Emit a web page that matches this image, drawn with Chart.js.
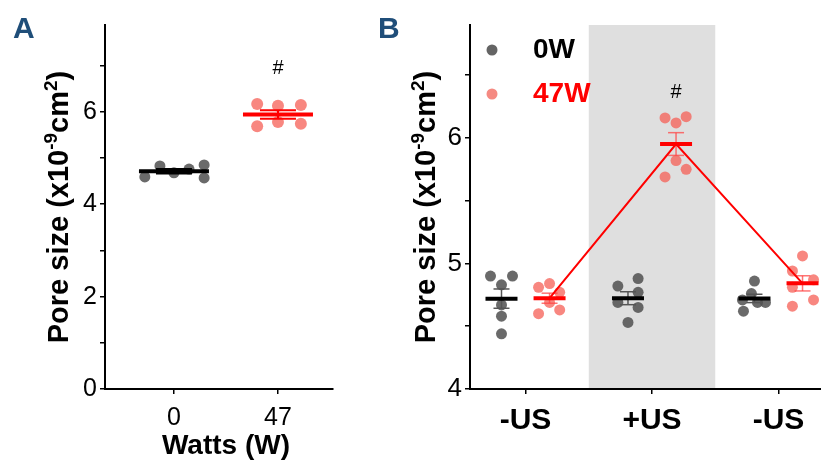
<!DOCTYPE html>
<html>
<head>
<meta charset="utf-8">
<script src="https://cdn.jsdelivr.net/npm/chart.js@4.4.0/dist/chart.umd.min.js"></script>
<style>
  html, body { margin: 0; padding: 0; background: #fff; }
  #wrap { position: relative; width: 821px; height: 460px; overflow: hidden; }
  #boxA { position: absolute; left: 0; top: 0; }
  #boxB { position: absolute; left: 335px; top: 0; }
</style>
</head>
<body>
<div id="wrap">
  <div id="boxA"><canvas id="chartA" width="335" height="460"></canvas></div>
  <div id="boxB"><canvas id="chartB" width="486" height="460"></canvas></div>
</div>
<script>
// ---- data: panel A (pore size by power) ----
const wattsLabels = ['0', '47'];
const wattsX = [0, 1];
const poreA_0W  = [4.59, 4.83, 4.68, 4.76, 4.85, 4.57];
const poreA_47W = [6.17, 6.13, 6.15, 5.69, 5.78, 5.74];
const jitterA_0W  = [-0.28, -0.135, 0, 0.145, 0.29, 0.29];
const jitterA_47W = [-0.2, 0, 0.22, -0.2, 0, 0.22];

// ---- data: panel B (pore size by ultrasound phase) ----
const usLabels = ['-US', '+US', '-US'];
const usX = [0, 1, 2];
const poreB_0W = [
  [4.90, 4.90, 4.83, 4.58, 4.44, 4.67],
  [4.82, 4.88, 4.77, 4.69, 4.65, 4.53],
  [4.86, 4.76, 4.71, 4.69, 4.69, 4.62],
];
const poreB_47W = [
  [4.81, 4.84, 4.77, 4.60, 4.63, 4.69],
  [6.16, 6.17, 6.12, 5.82, 5.75, 5.69],
  [5.06, 4.94, 4.87, 4.81, 4.66, 4.71],
];
const jitterB_0W = [
  [-0.087, 0.087, 0, 0, 0, 0],
  [-0.08, 0.08, 0.08, -0.08, 0.08, 0],
  [0, -0.024, -0.095, 0.024, 0.087, -0.087],
];
const jitterB_47W = [
  [-0.087, 0, 0.08, -0.087, 0.08, 0],
  [-0.087, 0.08, 0, 0, 0.08, -0.087],
  [0, -0.08, 0.087, -0.08, -0.08, 0.087],
];
const seriesNames = ['0W', '47W'];
const usShaded = [0.5, 1.5];   // +US window on the x axis
const sigA = [{ x: 1, y: 6.93, text: '#' }];
const sigB = [{ x: 1.19, y: 6.36, text: '#' }];
// y title pieces: [text, superscript?]
const yTitle = [['Pore size (x10', false], ['-9', true], ['cm', false], ['2', true], [')', false]];

const FONT = '"Liberation Sans", Arial, Helvetica, sans-serif';
const BLUE = '#1f4e79';
const DOT_GREY = 'rgba(80,80,80,0.85)';
const DOT_RED = 'rgba(245,95,85,0.75)';

const mean = a => a.reduce((s, v) => s + v, 0) / a.length;
const sem = a => {
  const m = mean(a);
  return Math.sqrt(a.reduce((s, v) => s + (v - m) ** 2, 0) / (a.length - 1) / a.length);
};

// dots + mean bar + SEM whiskers for one series
function seriesSets(centers, groups, jitter, st) {
  const pts = [], means = [], caps = [], stems = [];
  groups.forEach((vals, g) => {
    const cx = centers[g];
    vals.forEach((v, i) => pts.push({ x: cx + jitter[g][i], y: v }));
    const m = mean(vals), e = sem(vals);
    means.push({ x: cx, y: m });
    caps.push({ x: cx, y: m - e }, { x: cx, y: m + e });
    stems.push({ x: cx, y: m - e }, { x: cx, y: m + e }, { x: cx, y: null });
  });
  return [
    { data: means, pointStyle: 'line', pointRadius: st.meanHalf, pointBorderWidth: st.meanWidth,
      pointBorderColor: st.meanColor, order: 1 },
    { data: caps, pointStyle: 'line', pointRadius: st.capHalf, pointBorderWidth: st.errWidth,
      pointBorderColor: st.errColor, order: 2 },
    { data: stems, showLine: true, spanGaps: false, borderColor: st.errColor, borderWidth: st.errWidth,
      pointRadius: 0, order: 2 },
    { data: pts, pointRadius: st.dotR, pointBackgroundColor: st.dotColor, pointBorderWidth: 0, order: 3 },
  ];
}

const axisBase = {
  border: { display: true, color: '#000', width: 2 },
  grid: { display: true, drawOnChartArea: false, drawTicks: true, tickLength: 5, color: '#000', lineWidth: 1.5 },
};

function drawText(ctx, txt, x, y, font, color, align) {
  ctx.save();
  ctx.font = font;
  ctx.fillStyle = color;
  ctx.textAlign = align || 'center';
  ctx.textBaseline = 'middle';
  ctx.fillText(txt, x, y);
  ctx.restore();
}

// rotated axis title with real superscripts
function drawYTitle(ctx, cx, cy) {
  const big = `bold 29px ${FONT}`, small = `bold 19px ${FONT}`;
  ctx.save();
  ctx.translate(cx, cy);
  ctx.rotate(-Math.PI / 2);
  ctx.fillStyle = '#000';
  ctx.textBaseline = 'alphabetic';
  ctx.textAlign = 'left';
  let total = 0;
  yTitle.forEach(([t, sup]) => { ctx.font = sup ? small : big; total += ctx.measureText(t).width; });
  let x = -total / 2;
  yTitle.forEach(([t, sup]) => {
    ctx.font = sup ? small : big;
    ctx.fillText(t, x, sup ? -1 : 10);
    x += ctx.measureText(t).width;
  });
  ctx.restore();
}

// ---------------- Panel A ----------------
const dsA = [
  ...seriesSets([wattsX[0]], [poreA_0W], [jitterA_0W],
    { meanHalf: 35, meanWidth: 4, meanColor: '#000', capHalf: 18, errWidth: 2, errColor: '#000', dotR: 5.5, dotColor: DOT_GREY }),
  ...seriesSets([wattsX[1]], [poreA_47W], [jitterA_47W],
    { meanHalf: 35, meanWidth: 4, meanColor: '#ff0000', capHalf: 18, errWidth: 2, errColor: '#ff0000', dotR: 6, dotColor: DOT_RED }),
];

const decorA = {
  id: 'decorA',
  afterDraw(chart) {
    const { ctx, chartArea: a, scales: { x, y } } = chart;
    drawText(ctx, 'A', 13, 30, `bold 30px ${FONT}`, BLUE, 'left');
    sigA.forEach(s => drawText(ctx, s.text, x.getPixelForValue(s.x), y.getPixelForValue(s.y), `20px ${FONT}`, '#000'));
    const cx = (x.getPixelForValue(wattsX[0]) + x.getPixelForValue(wattsX[1])) / 2;
    drawText(ctx, 'Watts (W)', cx, 446, `bold 28px ${FONT}`, '#000');
    drawYTitle(ctx, 58, (a.top + a.bottom) / 2);
  }
};

new Chart(document.getElementById('chartA'), {
  type: 'scatter',
  data: { datasets: dsA },
  options: {
    responsive: false,
    animation: false,
    layout: { autoPadding: false, padding: { top: 25, right: 2, left: 0, bottom: 0 } },
    plugins: { legend: { display: false }, tooltip: { enabled: false } },
    scales: {
      x: {
        ...axisBase,
        type: 'linear', min: -0.663, max: 1.529,
        afterBuildTicks: s => { s.ticks = wattsX.map(v => ({ value: v })); },
        afterFit: s => { s.height = 71; },
        ticks: { color: '#000', padding: 9, font: { family: FONT, size: 25 },
          callback: (v, i) => wattsLabels[i] },
      },
      y: {
        ...axisBase,
        min: 0, max: 7.88,
        afterFit: s => { s.width = 105; },
        ticks: { stepSize: 1, includeBounds: false, color: '#000', padding: 3, font: { family: FONT, size: 25 },
          callback: v => (v % 2 === 0 ? v : '') },
      },
    },
  },
  plugins: [decorA],
});

// ---------------- Panel B ----------------
const offB = 0.19;
const redMeansB = poreB_47W.map((g, i) => ({ x: usX[i] + offB, y: mean(g) }));
const dsB = [
  { data: redMeansB, showLine: true, borderColor: '#ff0000', borderWidth: 2, pointRadius: 0, order: 0 },
  ...seriesSets(usX.map(v => v - offB), poreB_0W, jitterB_0W,
    { meanHalf: 16, meanWidth: 4, meanColor: '#000', capHalf: 8, errWidth: 1.5, errColor: '#555', dotR: 5.5, dotColor: DOT_GREY }),
  ...seriesSets(usX.map(v => v + offB), poreB_47W, jitterB_47W,
    { meanHalf: 16, meanWidth: 4, meanColor: '#ff0000', capHalf: 8, errWidth: 1.5, errColor: 'rgba(255,70,70,0.75)', dotR: 5.5, dotColor: DOT_RED }),
];

const bandB = {
  id: 'bandB',
  beforeDraw(chart) {
    const { ctx, chartArea: a, scales: { x } } = chart;
    const x0 = x.getPixelForValue(usShaded[0]), x1 = x.getPixelForValue(usShaded[1]);
    ctx.save();
    ctx.fillStyle = '#dfdfdf';
    ctx.fillRect(x0, a.top, x1 - x0, a.bottom - a.top);
    ctx.restore();
  }
};

const decorB = {
  id: 'decorB',
  afterDraw(chart) {
    const { ctx, chartArea: a, scales: { x, y } } = chart;
    drawText(ctx, 'B', 43, 30, `bold 30px ${FONT}`, BLUE, 'left');
    sigB.forEach(s => drawText(ctx, s.text, x.getPixelForValue(s.x), y.getPixelForValue(s.y), `20px ${FONT}`, '#000'));
    drawYTitle(ctx, 90, (a.top + a.bottom) / 2);
    // legend
    const cols = ['#646464', '#f58a82'];
    const txtCols = ['#000', '#ff0000'];
    seriesNames.forEach((n, i) => {
      const ly = a.top + 25 + i * 44;
      ctx.save();
      ctx.fillStyle = cols[i];
      ctx.beginPath();
      ctx.arc(a.left + 22, ly, 5.5, 0, Math.PI * 2);
      ctx.fill();
      ctx.restore();
      drawText(ctx, n, a.left + 63, ly, `bold 28px ${FONT}`, txtCols[i], 'left');
    });
  }
};

new Chart(document.getElementById('chartB'), {
  type: 'scatter',
  data: { datasets: dsB },
  options: {
    responsive: false,
    animation: false,
    layout: { autoPadding: false, padding: { top: 25, right: 0, left: 0, bottom: 0 } },
    plugins: { legend: { display: false }, tooltip: { enabled: false } },
    scales: {
      x: {
        ...axisBase,
        type: 'linear', min: -0.439, max: 2.336,
        afterBuildTicks: s => { s.ticks = usX.map(v => ({ value: v })); },
        afterFit: s => { s.height = 71; },
        ticks: { color: '#000', padding: 9, font: { family: FONT, size: 30, weight: 'bold' },
          callback: (v, i) => usLabels[i] },
      },
      y: {
        ...axisBase,
        min: 4, max: 6.9,
        afterFit: s => { s.width = 135; },
        ticks: { stepSize: 0.5, includeBounds: false, color: '#000', padding: 3, font: { family: FONT, size: 26 },
          callback: v => (Number.isInteger(v) ? v : '') },
      },
    },
  },
  plugins: [bandB, decorB],
});
</script>
</body>
</html>
